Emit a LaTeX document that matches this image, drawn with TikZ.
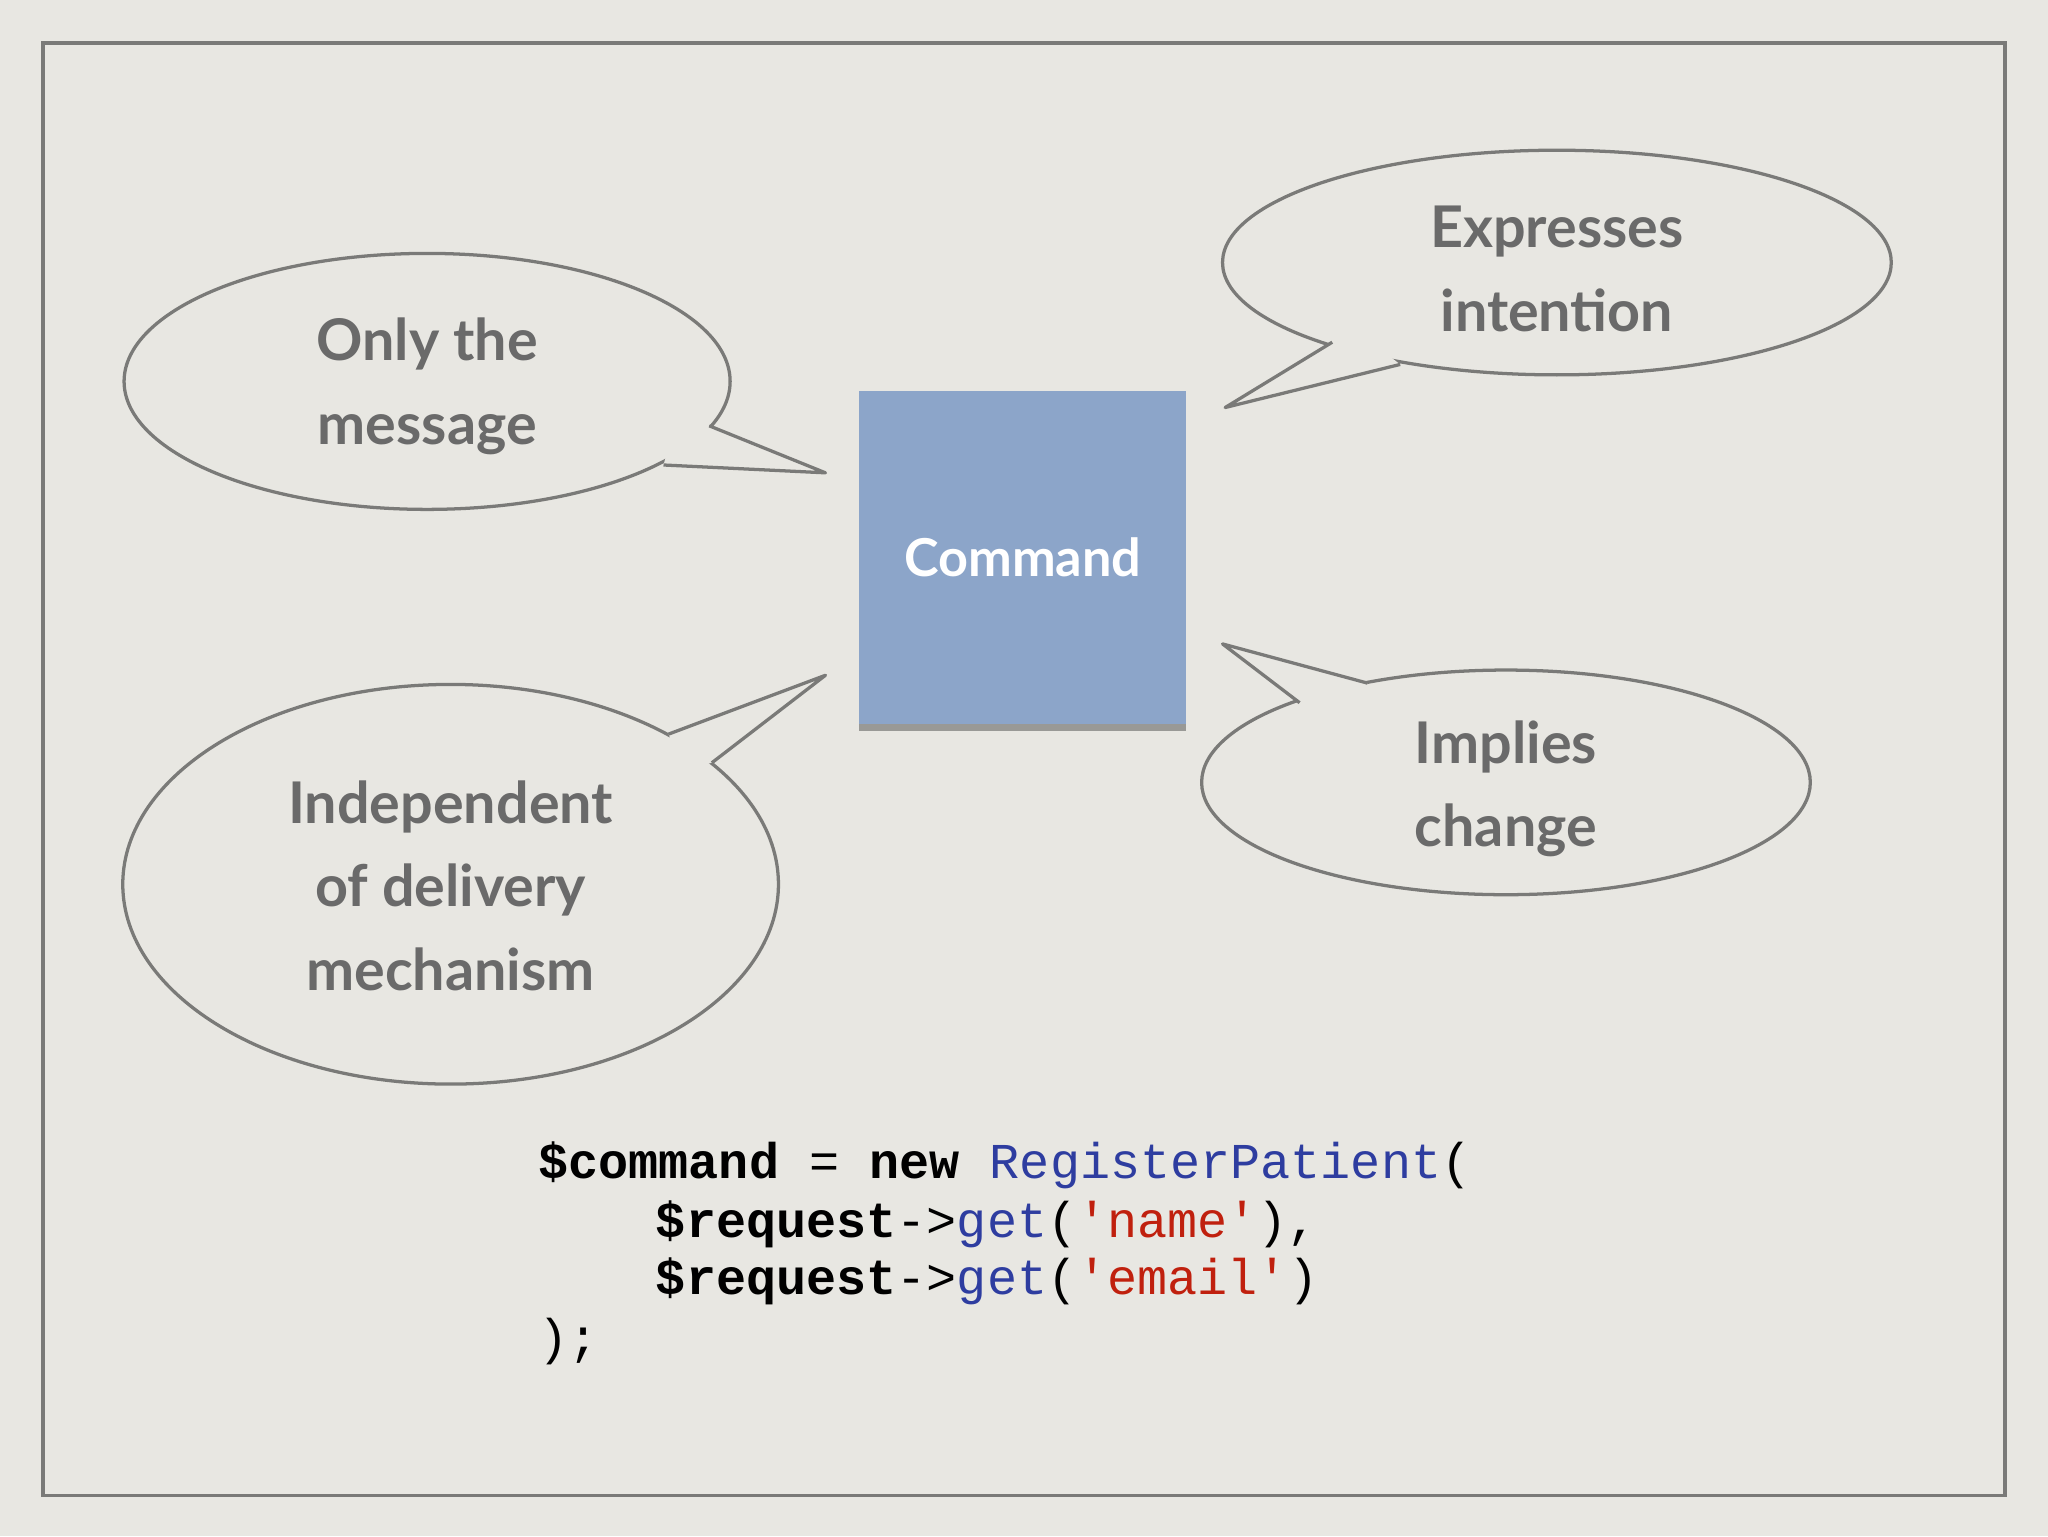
\documentclass[tikz,border=0pt]{standalone}
\usepackage{fontspec}
\setmonofont{Liberation Mono}
\setmainfont{Lato}
\usetikzlibrary{shapes.geometric,shadows}
\definecolor{bg}{HTML}{E8E7E2}
\definecolor{ln}{HTML}{7A7A78}
\definecolor{tx}{HTML}{6A6A6A}
\definecolor{cb}{HTML}{8CA5C9}
\definecolor{kw}{HTML}{2E3DA0}
\definecolor{st}{HTML}{C0200E}
\tikzset{
 bub/.style={draw=ln,line width=2.5pt,fill=bg},
 tail/.style={ln,line width=2.5pt,line join=round},
 btxt/.style={text=tx,font=\fontsize{44}{64}\selectfont\bfseries,align=center},
 code/.style={anchor=west,font=\fontsize{38.4}{40}\selectfont\ttfamily,inner sep=0pt}
}
\begin{document}
\begin{tikzpicture}[x=1pt,y=-1pt]
\fill[bg] (0,0) rectangle (1568,1176);
\useasboundingbox (0,0) rectangle (1568,1176);
\draw[ln,line width=3pt] (33,33) rectangle (1535,1145);
% command box
\node (cmd) [fill=cb,minimum width=250pt,minimum height=255pt,text=white,
  font=\fontsize{40}{40}\selectfont\bfseries,drop shadow={shadow xshift=0pt,shadow yshift=-5pt,opacity=.5,fill=black!70}] at (783,427) {Command};
% bubble 1
\draw[bub] (327,292) ellipse [x radius=232,y radius=98];
\coordinate (t1) at (632,362);
\fill[bg] (543,326) -- (t1) -- (508,356) -- (515,330) -- cycle;
\draw[tail] (543,326) -- (t1) -- (508,356);
\node[btxt] (b1) at (327,296) {Only the\\message};
% bubble 2
\draw[bub] (1192,201) ellipse [x radius=256,y radius=86];
\coordinate (t2) at (938,312);
\fill[bg] (1020,262) -- (t2) -- (1072,279) -- (1050,262) -- cycle;
\draw[tail] (1020,262) -- (t2) -- (1072,279);
\node[btxt] (b2) at (1192,206) {Expresses\\intention};
% bubble 3
\draw[bub] (345,677) ellipse [x radius=251,y radius=153];
\coordinate (t3) at (632,517);
\fill[bg] (512,562) -- (t3) -- (545,584) -- (520,590) -- cycle;
\draw[tail] (512,562) -- (t3) -- (545,584);
\node[btxt] (b3) at (345,678) {Independent\\of delivery\\mechanism};
% bubble 4
\draw[bub] (1153,599) ellipse [x radius=233,y radius=86];
\coordinate (t4) at (936,493);
\fill[bg] (1047,523) -- (t4) -- (995,538) -- (1020,545) -- cycle;
\draw[tail] (1047,523) -- (t4) -- (995,538);
\node[btxt] (b4) at (1153,604) {Implies\\change};
% code
\node[code] (c1) at (412,892) {\textbf{\$command} = \textbf{new} \textcolor{kw}{RegisterPatient}(};
\node[code] (c2) at (502,937) {\textbf{\$request}->\textcolor{kw}{get}(\textcolor{st}{'name'}),};
\node[code] (c3) at (502,981) {\textbf{\$request}->\textcolor{kw}{get}(\textcolor{st}{'email'})};
\node[code] (c4) at (412,1027) {);};
\end{tikzpicture}
\end{document}
